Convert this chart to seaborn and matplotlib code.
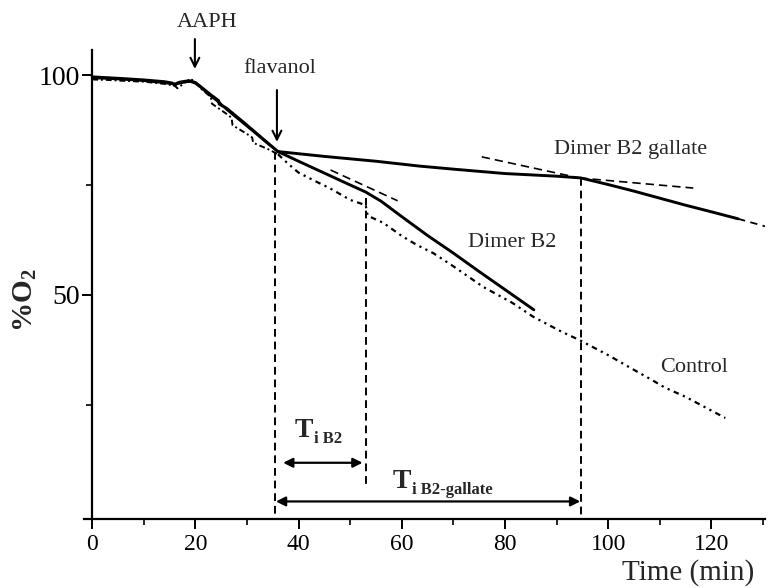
import numpy as np
import pandas as pd
import seaborn as sns
import matplotlib.pyplot as plt
from matplotlib.ticker import FixedLocator, MultipleLocator

# ---------------- data ----------------
# common pre-phase (before flavanol addition)
time_pre = [0, 3, 6, 10, 14, 15.5, 16, 16.5, 17, 18, 19, 20, 21, 23, 24.5, 24.6, 26,
            29, 32, 34, 36]
o2_pre_solid = [99.6, 99.4, 99.2, 98.9, 98.5, 98.2, 97.6, 98.2, 98.4, 98.6, 98.7, 98.3,
                97.4, 95.5, 94.2, 93.4, 92.5, 89.6, 86.6, 84.6, 82.6]
o2_pre_b2 = [99.3, 99.2, 99.0, 98.7, 98.2, 98.0, 98.1, 98.0, 98.1, 98.4, 98.5, 98.1,
             97.2, 95.2, 93.8, 93.9, 92.2, 89.3, 86.4, 84.4, 82.6]
time_pre_ctrl = [0, 3, 6, 10, 14, 16, 16.5, 18, 19, 20, 21, 23, 23.2, 26, 27, 27.2,
                 30, 31, 31.2, 34, 36]
o2_pre_ctrl = [99.0, 98.9, 98.7, 98.5, 98.0, 97.6, 97.0, 98.3, 99.2, 98.4, 97.0,
               95.0, 93.5, 91.2, 90.3, 88.6, 86.6, 85.8, 84.6, 83.2, 82.0]

# Dimer B2 gallate
time_b2g = [36, 45, 55, 63.4, 70, 80, 90, 94.7, 100, 105, 110, 115, 120, 125.2]
o2_b2g = [82.6, 81.5, 80.4, 79.3, 78.6, 77.6, 77.0, 76.6, 75.1, 73.6, 72.0, 70.4, 68.9, 67.3]
time_b2g_ext = [125.2, 130.4]
o2_b2g_ext = [67.3, 65.6]

# Dimer B2
time_b2 = [36, 40, 45, 50, 53, 56, 60, 65, 70, 75, 80, 85.6]
o2_b2 = [82.6, 80.4, 77.7, 75.0, 73.4, 71.3, 67.8, 63.5, 59.5, 55.3, 51.2, 46.6]

# Control
time_ctrl = [36, 38, 40, 43, 46, 50, 53, 53.4, 56.4, 60, 63, 66.1, 70, 75.8, 81.4,
             85.5, 91, 94.3, 100, 104, 108.4, 111, 115, 119, 122.7]
o2_ctrl = [82.0, 79.8, 77.8, 76.0, 74.3, 71.6, 70.4, 68.0, 66.4, 63.4, 61.3, 59.5,
           56.5, 51.8, 48.2, 45.0, 41.6, 39.8, 36.3, 33.6, 30.7, 28.9, 26.8, 24.3, 22.0]

# tangent lines
tan_b2_t = [46.2, 59.2]
tan_b2_y = [78.4, 71.4]
tan_g1_t = [75.5, 94.4]
tan_g1_y = [81.4, 76.6]
tan_g2_t = [94.4, 116.5]
tan_g2_y = [76.6, 74.3]

# induction-time markers
t_add = 35.5
t_ib2 = 53.1
t_ib2g = 94.7

x_ticks = [0, 20, 40, 60, 80, 100, 120]
y_ticks = [50, 100]

# ---------------- figure ----------------
sns.set_style('ticks')
plt.rcParams['font.family'] = ['Liberation Serif', 'DejaVu Serif']
plt.rcParams['mathtext.fontset'] = 'custom'
plt.rcParams['mathtext.rm'] = 'Liberation Serif'
plt.rcParams['mathtext.bf'] = 'Liberation Serif:bold'

fig = plt.figure(figsize=(7.71, 5.88), dpi=100)
ax = fig.add_axes([0.1089, 0.1173, 0.8833, 0.7976])

K = 'black'
solid_kw = dict(color=K, lw=2.1, estimator=None, sort=False, ax=ax)
sns.lineplot(x=time_pre, y=o2_pre_solid, **solid_kw)
sns.lineplot(x=time_pre, y=o2_pre_b2, color=K, lw=1.6, estimator=None, sort=False, ax=ax)
sns.lineplot(x=time_pre_ctrl, y=o2_pre_ctrl, color=K, lw=1.4, linestyle=(0, (3, 1.5, 1, 1.5)),
             estimator=None, sort=False, ax=ax)
sns.lineplot(x=time_b2g, y=o2_b2g, **solid_kw)
sns.lineplot(x=time_b2g_ext, y=o2_b2g_ext, color=K, lw=1.3, linestyle=(0, (4, 3)),
             estimator=None, sort=False, ax=ax)
sns.lineplot(x=time_b2, y=o2_b2, **solid_kw)
sns.lineplot(x=time_ctrl, y=o2_ctrl, color=K, lw=1.6, linestyle=(0, (2.5, 2, 1, 2, 1, 2)),
             estimator=None, sort=False, ax=ax)

# tangents
for tt, yy in [(tan_b2_t, tan_b2_y), (tan_g1_t, tan_g1_y), (tan_g2_t, tan_g2_y)]:
    sns.lineplot(x=tt, y=yy, color=K, lw=1.2, linestyle=(0, (5, 3)),
                 estimator=None, sort=False, ax=ax)

# vertical dashed lines
vd = dict(color=K, lw=1.4, linestyle=(0, (4, 2.5)))
ax.plot([t_add, t_add], [82.5, -1], **vd)
ax.plot([t_ib2, t_ib2], [72.0, 6.8], **vd)
ax.plot([t_ib2g, t_ib2g], [76.6, -1], **vd)

# double-headed arrows
ax.annotate('', xy=(37.0, 11.8), xytext=(52.4, 11.8),
            arrowprops=dict(arrowstyle='<|-|>', color=K, lw=1.6, mutation_scale=14,
                            shrinkA=0, shrinkB=0))
ax.annotate('', xy=(35.6, 3.0), xytext=(94.6, 3.0),
            arrowprops=dict(arrowstyle='<|-|>', color=K, lw=1.6, mutation_scale=14,
                            shrinkA=0, shrinkB=0))

# T_i labels
tb = ax.text(39.3, 17.7, 'T', fontsize=20, fontweight='bold', ha='left', va='baseline')
ax.annotate('i B2', xy=(1, 0), xycoords=tb, xytext=(0.5, -3), textcoords='offset points',
            fontsize=12, fontweight='bold', ha='left', va='bottom')
tg = ax.text(58.3, 6.1, 'T', fontsize=20, fontweight='bold', ha='left', va='baseline')
ax.annotate('i B2-gallate', xy=(1, 0), xycoords=tg, xytext=(0.5, -3), textcoords='offset points',
            fontsize=12, fontweight='bold', ha='left', va='bottom')

# AAPH / flavanol arrows
ax.annotate('', xy=(19.9, 101.4), xytext=(19.9, 108.2), annotation_clip=False,
            arrowprops=dict(arrowstyle='->', color=K, lw=1.5, mutation_scale=16,
                            shrinkA=0, shrinkB=0))
ax.text(22.2, 112.0, 'AAPH', fontsize=16, ha='center', va='center')
ax.annotate('', xy=(35.8, 84.8), xytext=(35.8, 96.6), annotation_clip=False,
            arrowprops=dict(arrowstyle='->', color=K, lw=1.5, mutation_scale=16,
                            shrinkA=0, shrinkB=0))
ax.text(36.4, 101.6, 'flavanol', fontsize=16, ha='center', va='center')

# series labels
ax.text(104.3, 83.0, 'Dimer B2 gallate', fontsize=16, ha='center', va='center')
ax.text(81.4, 62.0, 'Dimer B2', fontsize=16, ha='center', va='center')
ax.text(116.7, 33.4, 'Control', fontsize=16, ha='center', va='center')

# axes
ax.set_xlim(-1.6, 130.4)
ax.set_ylim(-1, 105.7)
ax.spines['left'].set_position(('data', 0))
ax.spines['top'].set_visible(False)
ax.spines['right'].set_visible(False)
for s in ['left', 'bottom']:
    ax.spines[s].set_linewidth(1.6)
    ax.spines[s].set_color(K)

ax.xaxis.set_major_locator(FixedLocator(x_ticks))
ax.xaxis.set_minor_locator(MultipleLocator(10))
ax.yaxis.set_major_locator(FixedLocator(y_ticks))
ax.yaxis.set_minor_locator(FixedLocator([25, 75]))
ax.set_xticklabels([str(v) for v in x_ticks])
ax.set_yticklabels([str(v) for v in y_ticks])
ax.tick_params(axis='both', which='major', direction='out', length=7, width=1.4,
               colors=K, labelsize=17)
ax.tick_params(axis='both', which='minor', direction='out', length=4, width=1.2, colors=K)
ax.tick_params(axis='y', labelsize=20, pad=2)
ax.set_xlabel('')
ax.set_ylabel('')

fig.text(25 / 771, 1 - 300 / 588, r'%O$_{\mathbf{2}}$', rotation=90, fontsize=21,
         fontweight='bold', ha='center', va='center')
fig.text(688 / 771, 1 - 573 / 588, 'Time (min)', fontsize=21, ha='center', va='center')

fig.savefig('out.png', dpi=100)
